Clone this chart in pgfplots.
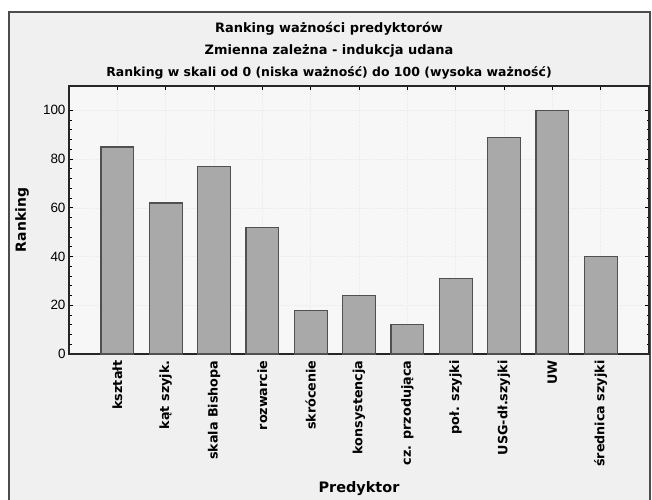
\documentclass[border=0pt]{standalone}
\usepackage{fontspec}
\setmainfont{DejaVu Sans}
\newfontfamily\arial{Liberation Sans}
\usepackage{pgfplots}
\pgfplotsset{compat=1.18}
\definecolor{bgout}{HTML}{F0F0F0}
\definecolor{bgin}{HTML}{F7F7F7}
\definecolor{barfill}{HTML}{A9A9A9}
\definecolor{baredge}{HTML}{505050}
\begin{document}
\begin{tikzpicture}
\path[use as bounding box] (0bp,0bp) rectangle (652bp,-500bp);
\fill[white] (0bp,0bp) rectangle (652bp,-500bp);
\fill[bgout] (9bp,-12bp) rectangle (650bp,-500bp);
\draw[line width=1.2bp, black!70] (9bp,-500bp) -- (9bp,-12bp) -- (650bp,-12bp) -- (650bp,-500bp);
\node[anchor=base, font=\bfseries\fontsize{13}{13}\selectfont] at (329bp,-32bp) {Ranking ważności predyktorów};
\node[anchor=base, font=\bfseries\fontsize{13}{13}\selectfont] at (329bp,-54bp) {Zmienna zależna - indukcja udana};
\node[anchor=base, font=\bfseries\fontsize{12.5}{12.5}\selectfont] at (329bp,-76bp) {Ranking w skali od 0 (niska ważność) do 100 (wysoka ważność)};
\begin{axis}[
  at={(69bp,-354bp)}, anchor=south west,
  width=580bp, height=268bp, scale only axis,
  xmin=-1, xmax=11, ymin=0, ymax=110,
  ybar, bar width=0.68,
  axis background/.style={fill=bgin},
  axis line style={black!85, line width=1.2bp},
  xtick={0,...,10},
  xticklabels={kształt, kąt szyjk., skala Bishopa, rozwarcie, skrócenie, konsystencja, cz. przodująca, poł. szyjki, USG-dł.szyjki, UW, średnica szyjki},
  xticklabel style={rotate=90, anchor=east, font=\bfseries\fontsize{12.8}{12.8}\selectfont, xshift=-3bp},
  ytick={0,20,...,100},
  minor y tick num=4,
  /pgf/number format/assume math mode=true,
  yticklabel style={font=\arial\fontsize{13.5}{13.5}\selectfont},
  tick align=inside,
  major tick length=4bp, minor tick length=2.5bp,
  tick style={black, line width=0.8bp},
  grid=major,
  major grid style={densely dotted, black!7},
  ylabel={Ranking},
  ylabel style={at={(axis description cs:0,0.5)}, yshift=47bp, anchor=center, font=\bfseries\fontsize{14}{14}\selectfont},
  xlabel={Predyktor},
  xlabel style={at={(axis description cs:0.5,0)}, yshift=-135bp, anchor=center, font=\bfseries\fontsize{14.5}{14.5}\selectfont},
]
\addplot[fill=barfill, draw=baredge, line width=1.2bp] coordinates {
(0,85) (1,62) (2,77) (3,52) (4,18) (5,24) (6,12) (7,31) (8,89) (9,100) (10,40)};
\end{axis}
\end{tikzpicture}
\end{document}
